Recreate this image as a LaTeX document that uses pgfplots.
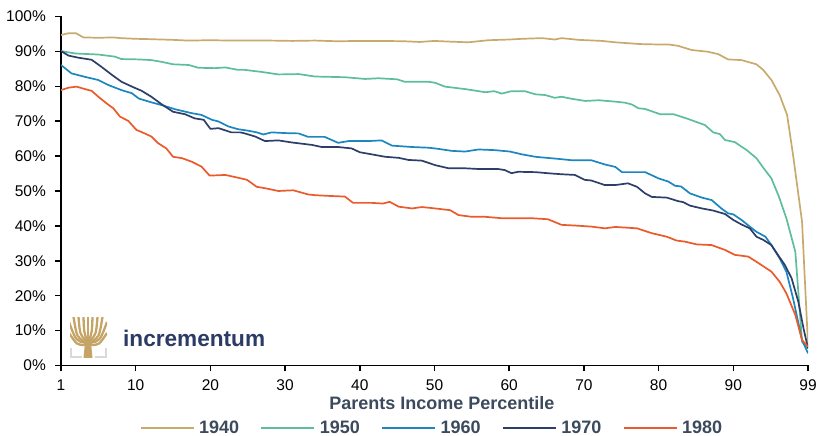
\documentclass[border=0pt]{standalone}
\usepackage{fontspec}
\setmainfont{Liberation Sans}
\usepackage{pgfplots}
\pgfplotsset{compat=1.18}
\definecolor{c40}{HTML}{C8AA6C}
\definecolor{c50}{HTML}{5DBE99}
\definecolor{c60}{HTML}{1B86BF}
\definecolor{c70}{HTML}{2D3E69}
\definecolor{c80}{HTML}{EB5A2B}
\definecolor{labelc}{HTML}{3B4A5C}
\definecolor{logogold}{HTML}{C5A467}
\definecolor{logonavy}{HTML}{2B3B66}
\definecolor{logogrey}{HTML}{D9D9D9}
\begin{document}
\begin{tikzpicture}[x=1bp,y=1bp]
\useasboundingbox (0,0) rectangle (817,436);
\begin{axis}[
  at={(61bp,70.5bp)}, anchor=south west,
  scale only axis, width=747bp, height=349bp,
  xmin=0, xmax=100, ymin=0, ymax=100,
  axis x line=bottom, axis y line=left,
  axis line style={-, line width=1.8bp, black},
  xtick={0,10,...,100},
  xticklabels={1,10,20,30,40,50,60,70,80,90,99},
  ytick={0,10,...,100},
  yticklabels={0\%,10\%,20\%,30\%,40\%,50\%,60\%,70\%,80\%,90\%,100\%},
  tick align=outside, major tick length=6bp,
  tick style={black, line width=1.5bp},
  /pgf/number format/assume math mode=true,
  ticklabel style={font=\fontsize{15.5bp}{18bp}\selectfont, inner sep=0pt},
  xticklabel style={yshift=-8bp},
  yticklabel style={xshift=-9bp},
  xlabel={Parents Income Percentile},
  xlabel style={at={(axis description cs:0.510,-0.1083)}, anchor=center,
    font=\bfseries\fontsize{18bp}{20bp}\selectfont, text=labelc, inner sep=0pt},
  legend style={at={(axis description cs:0.4952,-0.1790)}, anchor=center,
    draw=none, fill=none, legend columns=5, inner sep=0pt,
    font=\bfseries\fontsize{18bp}{20bp}\selectfont, text=labelc,
    nodes={inner sep=0pt},
    /tikz/every odd column/.append style={column sep=4.7bp},
    /tikz/every even column/.append style={column sep=21.3bp}},
  legend cell align=left,
  legend image code/.code={\draw[#1] (0bp,0bp) -- (53bp,0bp);},
  every axis plot/.append style={line width=1.7bp, line join=round},
]
\addplot[c40] coordinates {(0,94.7)(1,95.2)(2,95.2)(3,94.0)(5,93.9)(7,94.0)(8,93.8)(10,93.6)(12,93.5)(15,93.3)(17,93.1)(20,93.2)(23,93.1)(25,93.1)(28,93.1)(31,93.0)(34,93.1)(37,92.9)(40,93.0)(43,93.0)(46,92.9)(48,92.7)(50,93.0)(52,92.8)(54.5,92.6)(57.2,93.2)(60,93.4)(61.7,93.6)(64.4,93.8)(66.1,93.4)(67,93.8)(69.3,93.3)(72.4,93.0)(74.2,92.6)(76.2,92.3)(77.5,92.1)(79.5,92.0)(81.3,92.0)(82.6,91.6)(84.4,90.4)(86.6,89.9)(88,89.2)(89.3,87.7)(91.1,87.5)(93.1,86.3)(94,84.7)(95.1,81.8)(96.2,77.5)(97.2,71.8)(98,60.3)(99.2,41.2)(100,5.9)};
\addlegendentry{1940}
\addplot[c50] coordinates {(0,90.1)(1.9,89.4)(5,89.1)(7.2,88.5)(8.1,87.8)(10.4,87.7)(12.1,87.5)(13.5,87.0)(15,86.3)(17.1,86.1)(18.4,85.3)(20.6,85.2)(22,85.4)(23.7,84.7)(24.6,84.7)(26.9,84.1)(29.1,83.4)(31.8,83.5)(34,82.8)(38,82.6)(40.7,82.1)(42.5,82.3)(45,82.0)(46,81.3)(49.2,81.3)(50.1,81.0)(51.4,79.9)(54.1,79.2)(56.8,78.3)(58,78.6)(59,77.9)(60.3,78.6)(62.1,78.6)(63.5,77.7)(64.8,77.5)(66.1,76.7)(67,77.0)(68.4,76.4)(70.2,75.8)(72,76.0)(74.2,75.6)(75.5,75.3)(76.4,74.8)(77.3,73.7)(78.2,73.5)(80.2,72.0)(82,72.0)(84,70.6)(86.2,68.9)(87.3,66.8)(88.2,66.3)(88.9,64.6)(90.2,64.0)(91.8,61.7)(93.1,59.4)(94,56.7)(95.1,53.6)(96.1,48.4)(97.1,42.2)(98.3,32.6)(99.2,6.8)(100,4.9)};
\addlegendentry{1950}
\addplot[c60] coordinates {(0,86.1)(1.4,83.7)(3.2,82.7)(5,81.8)(6.3,80.4)(8.1,78.9)(9.5,78.0)(10.4,76.5)(12.1,75.4)(13.5,74.6)(15.3,73.4)(17.5,72.3)(18.8,71.8)(20.2,70.4)(21.1,69.9)(22.4,68.5)(23.7,67.7)(25,67.3)(26.2,66.8)(27.1,66.2)(28.2,66.8)(29.9,66.6)(31.8,66.5)(33.1,65.5)(35.3,65.5)(37.1,63.8)(38.5,64.3)(41.1,64.3)(42.9,64.5)(44.3,63.0)(47,62.6)(49.2,62.4)(50.4,62.1)(52.3,61.5)(54.1,61.3)(55.9,61.9)(58.1,61.7)(60.1,61.3)(61.7,60.5)(63.5,59.8)(65,59.5)(66.6,59.2)(68.4,58.8)(71,58.8)(72.8,57.6)(74.2,56.9)(75.1,55.4)(78.2,55.4)(80,53.6)(81.3,52.7)(82.2,51.5)(83,51.3)(84.2,49.3)(85.8,48.1)(87.1,47.4)(88.4,45.0)(89.3,43.6)(90,43.3)(91.1,41.7)(92.2,39.8)(93.1,38.3)(94.3,36.9)(95.1,34.5)(96.2,30.7)(97.1,26.9)(98,19.2)(99.2,7.3)(100,3.5)};
\addlegendentry{1960}
\addplot[c70] coordinates {(0,90.1)(1,88.8)(2.3,88.2)(4.1,87.6)(5.4,85.6)(6.8,83.3)(8.1,81.3)(9.5,79.9)(10.8,78.7)(12.1,77.0)(13.5,74.8)(15,72.7)(16.6,72.0)(17.9,70.8)(19.1,70.4)(20,67.8)(21.1,68.0)(22.8,66.8)(24,66.8)(24.6,66.5)(26,65.6)(27.3,64.3)(29.1,64.5)(30.9,63.9)(33.6,63.2)(34.9,62.6)(37.1,62.6)(38.9,62.2)(40,61.1)(41.6,60.5)(43.4,59.8)(45.2,59.5)(46.5,58.9)(48.3,58.7)(50.1,57.4)(51.9,56.5)(54.1,56.5)(55.9,56.3)(58.5,56.3)(59.4,56.0)(60.3,55.1)(61.2,55.5)(63.5,55.4)(65.7,55.0)(67,54.8)(68.8,54.6)(70.1,53.2)(71,53.0)(72.8,51.7)(74.2,51.7)(75.9,52.2)(77.1,51.2)(78.2,49.3)(79.1,48.3)(81.1,48.1)(82.6,47.1)(83.3,46.8)(84.2,45.8)(85.8,45.0)(87.3,44.4)(88.9,43.4)(90,41.7)(91.1,40.4)(92.2,39.3)(93.1,36.9)(94,36.0)(95.1,34.5)(96,31.6)(96.9,28.8)(97.8,25.0)(98.7,18.3)(99.4,10.6)(100,4.9)};
\addlegendentry{1970}
\addplot[c80] coordinates {(0,78.9)(1,79.6)(2.1,79.9)(3.2,79.2)(4.1,78.7)(5,77.0)(6.1,75.1)(7,73.7)(7.9,71.3)(9,70.1)(10.1,67.5)(11.2,66.5)(12.1,65.6)(13,63.7)(14.1,62.2)(15,59.8)(16.2,59.4)(17.5,58.4)(18.8,57.0)(19.9,54.4)(22,54.6)(23.7,53.8)(24.9,53.2)(26.2,51.2)(27.3,50.8)(29.1,50.0)(31.1,50.2)(33.1,49.0)(34,48.8)(35.8,48.6)(38,48.4)(39.1,46.6)(41.6,46.6)(43.1,46.4)(44,46.9)(45.2,45.5)(47,45.0)(48.3,45.4)(50.1,45.0)(52.1,44.5)(53.2,43.1)(55,42.6)(56.8,42.6)(59,42.2)(63,42.2)(65.2,41.9)(67,40.3)(68.8,40.1)(71,39.8)(72.8,39.3)(74.2,39.7)(77.1,39.3)(79.1,37.9)(81.1,36.9)(82.4,35.8)(83.5,35.5)(85.1,34.7)(87.1,34.5)(88.9,33.1)(90.2,31.7)(92,31.2)(93.4,29.3)(95.1,26.9)(96.2,24.0)(97.1,20.7)(98.3,14.5)(99.2,7.3)(100,5.4)};
\addlegendentry{1980}
\end{axis}
% logo
\begin{scope}
\clip (70,78) rectangle (107,118);
\fill[logogold] (83.5,78) -- (92.5,78) -- (90.8,96) -- (85.2,96) -- cycle;
\begin{scope}[draw=logogold, line width=2.3bp, line cap=butt]
\draw (88,94) -- (88,119);
\draw (87,95) .. controls (84,104) .. (83.5,119);
\draw (89,95) .. controls (92,104) .. (92.5,119);
\draw (86.5,95) .. controls (80,101) .. (78.5,119);
\draw (89.5,95) .. controls (96,101) .. (97.5,119);
\draw (86,94) .. controls (77,98) .. (73.5,119);
\draw (90,94) .. controls (99,98) .. (102.5,119);
\draw (86,93) .. controls (76,95) .. (69,114);
\draw (90,93) .. controls (100,95) .. (107,114);
\draw (85.5,91) .. controls (77,91) .. (69,103);
\draw (90.5,91) .. controls (99,91) .. (107,103);
\end{scope}
\end{scope}
\draw[logogrey, line width=2bp] (71,88) -- (71,79) -- (82,79);
\draw[logogrey, line width=2bp] (106,88) -- (106,79) -- (95,79);
\node[anchor=base west, inner sep=0pt, text=logonavy,
  font=\bfseries\fontsize{22.6bp}{25bp}\selectfont] at (123,89.3) {incrementum};
\end{tikzpicture}
\end{document}
